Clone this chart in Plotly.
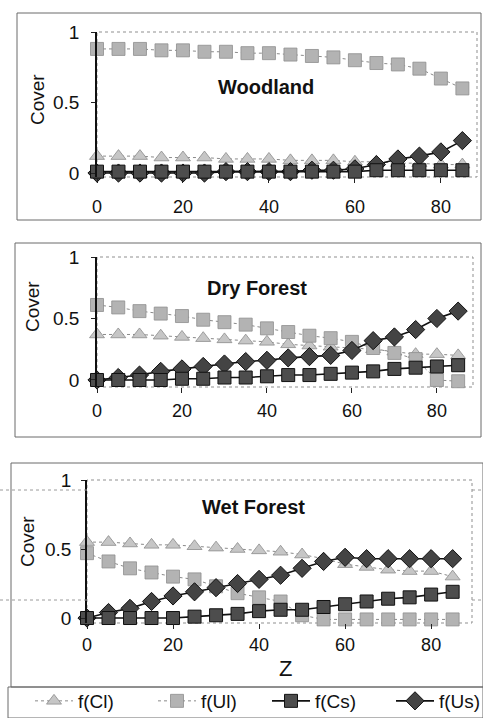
import plotly.graph_objects as go

# ---------------- data ----------------
z = [0, 5, 10, 15, 20, 25, 30, 35, 40, 45, 50, 55, 60, 65, 70, 75, 80, 85]

wood_cl = [0.12, 0.12, 0.12, 0.11, 0.11, 0.11, 0.10, 0.10, 0.10, 0.09, 0.09, 0.09, 0.08, 0.08, 0.07, 0.07, 0.06, 0.06]
wood_ul = [0.88, 0.88, 0.88, 0.87, 0.87, 0.86, 0.86, 0.85, 0.85, 0.84, 0.83, 0.82, 0.80, 0.78, 0.77, 0.74, 0.67, 0.60]
wood_cs = [0.01, 0.01, 0.01, 0.01, 0.01, 0.01, 0.01, 0.01, 0.01, 0.01, 0.01, 0.01, 0.01, 0.02, 0.02, 0.02, 0.02, 0.02]
wood_us = [0.00, 0.00, 0.00, 0.00, 0.00, 0.00, 0.01, 0.01, 0.01, 0.01, 0.02, 0.02, 0.03, 0.06, 0.10, 0.12, 0.15, 0.23]

dry_cl = [0.37, 0.37, 0.37, 0.36, 0.35, 0.34, 0.33, 0.32, 0.31, 0.29, 0.28, 0.27, 0.26, 0.25, 0.23, 0.21, 0.21, 0.20]
dry_ul = [0.61, 0.59, 0.56, 0.54, 0.52, 0.49, 0.47, 0.45, 0.42, 0.39, 0.36, 0.34, 0.31, 0.26, 0.22, 0.17, 0.00, -0.01]
dry_cs = [0.00, 0.00, 0.00, 0.00, 0.01, 0.01, 0.02, 0.02, 0.03, 0.04, 0.04, 0.05, 0.06, 0.07, 0.09, 0.10, 0.11, 0.12]
dry_us = [0.00, 0.02, 0.04, 0.07, 0.09, 0.11, 0.13, 0.15, 0.16, 0.18, 0.19, 0.20, 0.24, 0.32, 0.35, 0.41, 0.50, 0.56]

wet_cl = [0.55, 0.55, 0.54, 0.53, 0.53, 0.52, 0.51, 0.50, 0.49, 0.48, 0.46, 0.43, 0.39, 0.37, 0.35, 0.34, 0.34, 0.30]
wet_ul = [0.47, 0.41, 0.36, 0.33, 0.30, 0.28, 0.23, 0.18, 0.15, 0.12, 0.02, -0.01, -0.01, -0.01, -0.01, -0.01, -0.01, -0.01]
wet_cs = [0.00, 0.00, 0.00, 0.00, 0.00, 0.01, 0.02, 0.03, 0.05, 0.06, 0.06, 0.08, 0.10, 0.12, 0.14, 0.15, 0.17, 0.19]
wet_us = [0.00, 0.04, 0.07, 0.12, 0.16, 0.19, 0.22, 0.25, 0.28, 0.31, 0.36, 0.41, 0.44, 0.43, 0.43, 0.43, 0.43, 0.43]

panel_titles = ["Woodland", "Dry Forest", "Wet Forest"]
series_names = ["f(Cl)", "f(Ul)", "f(Cs)", "f(Us)"]
x_ticks = [0, 20, 40, 60, 80]
y_ticks = [0, 0.5, 1]

# ---------------- layout helpers ----------------
W, H = 483, 718
FONT = "Arial, Liberation Sans, sans-serif"


def fx(p):
    return p / W


def fy(p):
    return 1 - p / H


# panel geometry in pixels
panels = [
    dict(l=97, r=477, t=32, b=177, xmax=88.4, ymin=-0.028, std_x=8, std_y=8,
         title_xy=(266, 87), cover_xy=(37, 100), frame=(17, 481, 13, 220)),
    dict(l=97, r=473, t=257, b=387, xmax=88.5, ymin=-0.057, std_x=2, std_y=8,
         title_xy=(257, 288), cover_xy=(32, 307), frame=(15, 481, 243, 437)),
    dict(l=87, r=472, t=480, b=623, xmax=89.5, ymin=-0.036, std_x=0, std_y=6,
         title_xy=(253, 507), cover_xy=(27, 542), frame=(11, 483, 463, 687)),
]

data = [
    (wood_cl, wood_ul, wood_cs, wood_us),
    (dry_cl, dry_ul, dry_cs, dry_us),
    (wet_cl, wet_ul, wet_cs, wet_us),
]

styles = {
    "f(Cl)": dict(symbol="triangle-up", size=13, color="#c6c6c6", lcolor="#8c8c8c",
                  line=dict(color="#8a8a8a", width=1, dash="dot"), mline=0.8,
                  legend="legend", lx=30),
    "f(Ul)": dict(symbol="square", size=13, color="#b3b3b3", lcolor="#8e8e8e",
                  line=dict(color="#8a8a8a", width=1, dash="dot"), mline=0.8,
                  legend="legend2", lx=153),
    "f(Cs)": dict(symbol="square", size=13, color="#4d4d4d", lcolor="#111111",
                  line=dict(color="#111111", width=1.6), mline=1,
                  legend="legend3", lx=267),
    "f(Us)": dict(symbol="diamond", size=14, color="#444444", lcolor="#111111",
                  line=dict(color="#111111", width=1.6), mline=1,
                  legend="legend4", lx=391),
}

fig = go.Figure()

draw_order = ["f(Cl)", "f(Ul)", "f(Us)", "f(Cs)"]
for i, (p, series) in enumerate(zip(panels, data)):
    sfx = "" if i == 0 else str(i + 1)
    vals = dict(zip(series_names, series))
    for name in draw_order:
        s = styles[name]
        fig.add_trace(go.Scatter(
            x=z, y=vals[name], name=name, mode="lines+markers",
            xaxis="x" + sfx, yaxis="y" + sfx,
            line=s["line"],
            marker=dict(symbol=s["symbol"], size=s["size"], color=s["color"],
                        line=dict(color=s["lcolor"], width=s["mline"])),
            cliponaxis=False,
            showlegend=(i == 0), legend=s["legend"],
        ))

    xa = dict(
        domain=[fx(p["l"]), fx(p["r"])], range=[0, p["xmax"]],
        anchor="y" + sfx, showgrid=False, zeroline=False, showline=False,
        tickvals=x_ticks, ticks="outside", ticklen=5, tickcolor="#222",
        tickfont=dict(family=FONT, size=18, color="#111"),
        ticklabelstandoff=p["std_x"],
    )
    ya = dict(
        domain=[fy(p["b"]), fy(p["t"])], range=[p["ymin"], 1],
        anchor="x" + sfx, showgrid=False, zeroline=False,
        showline=True, linecolor="#111", linewidth=1.5,
        tickvals=y_ticks, ticktext=["0", "0.5", "1"],
        ticks="outside", ticklen=4, tickcolor="#222",
        tickfont=dict(family=FONT, size=19, color="#111"),
        ticklabelstandoff=p["std_y"],
    )
    fig.update_layout(**{"xaxis" + sfx: xa, "yaxis" + sfx: ya})

    # dotted plot-area border
    fig.add_shape(type="rect", xref="x" + sfx + " domain", yref="y" + sfx + " domain",
                  x0=0, x1=1, y0=0, y1=1,
                  line=dict(color="#8f8f8f", width=1, dash="dot"), layer="below")
    # outer frame of panel
    l, r, t, b = p["frame"]
    fig.add_shape(type="rect", xref="paper", yref="paper",
                  x0=fx(l), x1=fx(r), y0=fy(b), y1=fy(t),
                  line=dict(color="#6a6a6a", width=1))
    tx, ty = p["title_xy"]
    fig.add_annotation(x=fx(tx), y=fy(ty), xref="paper", yref="paper",
                       text="<b>" + panel_titles[i] + "</b>", showarrow=False,
                       font=dict(family=FONT, size=20, color="#111"),
                       xanchor="center", yanchor="middle")
    cx, cy = p["cover_xy"]
    fig.add_annotation(x=fx(cx), y=fy(cy), xref="paper", yref="paper",
                       text="Cover", textangle=-90, showarrow=False,
                       font=dict(family=FONT, size=19, color="#111"),
                       xanchor="center", yanchor="middle")

# x title
fig.add_annotation(x=fx(285), y=fy(668), xref="paper", yref="paper", text="Z",
                   showarrow=False, font=dict(family=FONT, size=22, color="#111"),
                   xanchor="center", yanchor="middle")

# legend box
fig.add_shape(type="rect", xref="paper", yref="paper",
              x0=fx(8), x1=fx(483), y0=fy(718), y1=fy(687),
              line=dict(color="#6a6a6a", width=1))

# faint dotted scan lines at left/right of lower panel
for yy in (490, 600):
    for (a, b2) in ((0, 87), (472, 483)):
        fig.add_shape(type="line", xref="paper", yref="paper",
                      x0=fx(a), x1=fx(b2), y0=fy(yy), y1=fy(yy),
                      line=dict(color="#9a9a9a", width=1, dash="dot"))

legend_common = dict(orientation="h", yanchor="middle", xanchor="left",
                     font=dict(family=FONT, size=19, color="#111"),
                     bgcolor="rgba(0,0,0,0)", borderwidth=0, itemwidth=38)
layout_legends = {}
for name in series_names:
    s = styles[name]
    layout_legends[s["legend"]] = dict(legend_common, x=fx(s["lx"]), y=fy(701))

fig.update_layout(
    width=W, height=H, autosize=False,
    margin=dict(l=0, r=0, t=0, b=0, autoexpand=False),
    paper_bgcolor="white", plot_bgcolor="white",
    showlegend=True,
    **layout_legends,
)

fig.write_html("out.html", config={"displayModeBar": False},
               post_script="document.body.style.margin='0';document.body.style.overflow='hidden';")
